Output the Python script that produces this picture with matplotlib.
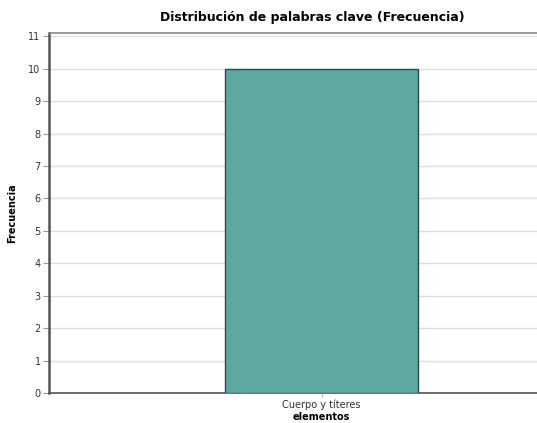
import matplotlib
matplotlib.use('Agg')
import matplotlib.pyplot as plt

# Data
categorias = ["Cuerpo y títeres"]
frecuencias = [10]

fig = plt.figure(figsize=(5.37, 4.23), dpi=100)
# axes runs past the right edge of the figure (cropped in the reference)
ax = fig.add_axes([49 / 537, 30 / 423, 545 / 537, 360 / 423])

ax.bar(range(len(categorias)), frecuencias, width=0.354, color="#5fa7a1",
       edgecolor="#2e4a46", linewidth=1.0, zorder=3)

ax.set_xlim(-0.5, 0.5)
ax.set_ylim(0, 11.1)
ax.set_yticks(range(0, 12))
ax.set_xticks(range(len(categorias)))
ax.set_xticklabels(categorias)

ax.grid(axis="y", color="#dcdcdc", linewidth=1.0, zorder=0)
ax.tick_params(axis="y", labelsize=7, length=4, color="#999999", labelcolor="#333333", pad=2)
ax.tick_params(axis="x", labelsize=7, length=3, color="#bbbbbb", labelcolor="#333333", pad=2)

ax.spines["left"].set_color("#555555")
ax.spines["left"].set_linewidth(1.8)
ax.spines["bottom"].set_color("#555555")
ax.spines["bottom"].set_linewidth(1.2)
ax.spines["top"].set_color("#888888")
ax.spines["top"].set_linewidth(1.2)
ax.spines["right"].set_visible(False)

ax.set_ylabel("Frecuencia", fontsize=7, fontweight="bold")
ax.yaxis.set_label_coords((17 - 49) / 545, 0.5)
ax.set_xlabel("elementos", fontsize=7, fontweight="bold", labelpad=1)

fig.text(312 / 537, 1 - 18 / 423, "Distribución de palabras clave (Frecuencia)",
         ha="center", va="center", fontsize=9, fontweight="bold")

fig.savefig("out.png", dpi=100)
